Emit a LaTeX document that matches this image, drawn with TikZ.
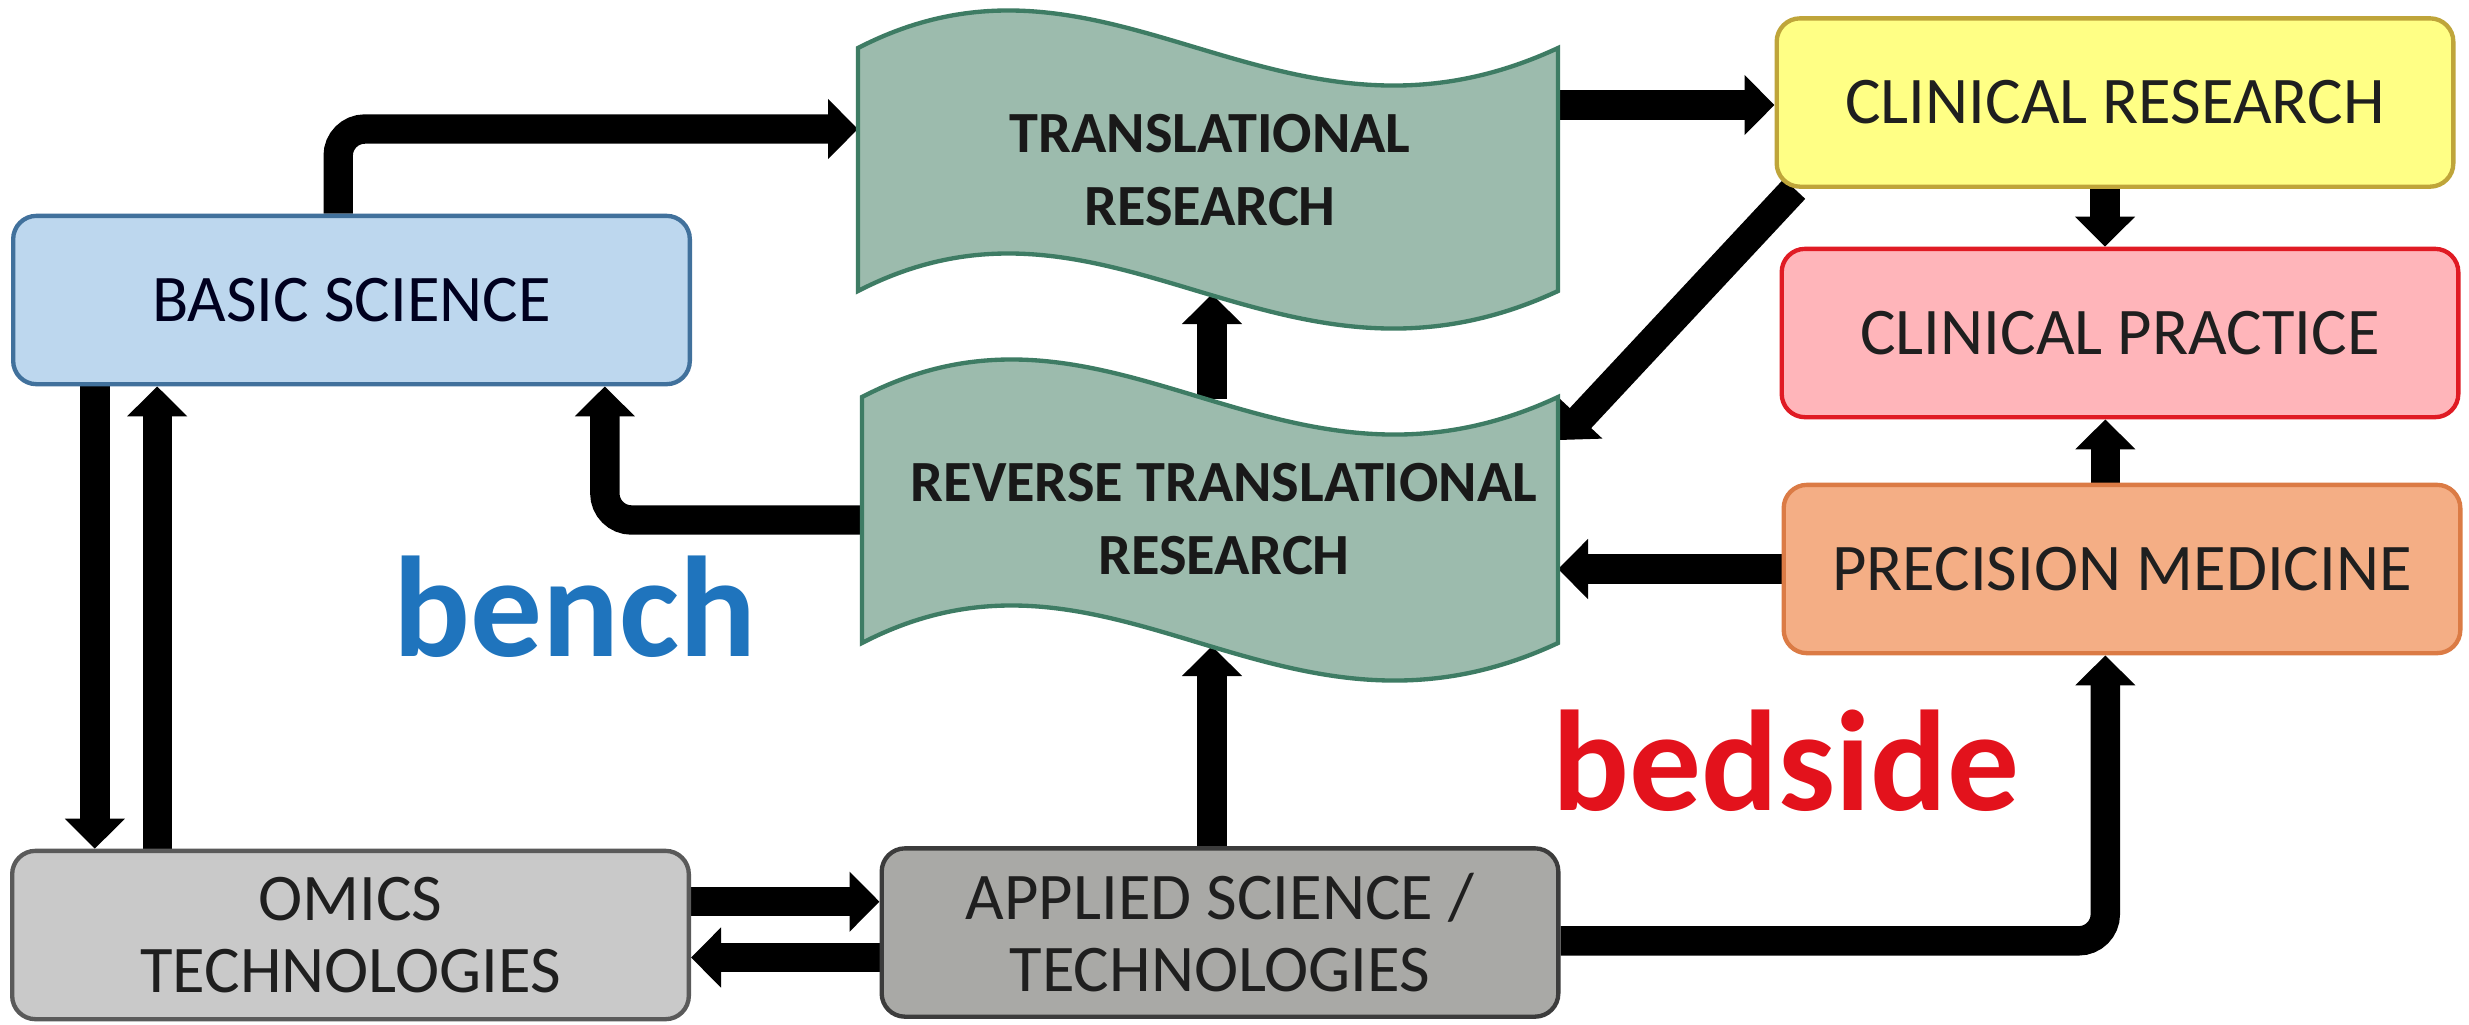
\documentclass[tikz,border=0pt]{standalone}
\usepackage{fontspec}
\setmainfont{Carlito}
\usetikzlibrary{arrows.meta}
\pgfdeclarelayer{bg}
\pgfsetlayers{bg,main}
\definecolor{bsfill}{HTML}{BDD7EE}
\definecolor{bsdraw}{HTML}{41719C}
\definecolor{wvfill}{HTML}{9CBBAD}
\definecolor{wvdraw}{HTML}{3E7C64}
\definecolor{crfill}{HTML}{FFFF85}
\definecolor{crdraw}{HTML}{BFA53A}
\definecolor{cpfill}{HTML}{FFB5BA}
\definecolor{cpdraw}{HTML}{E01B24}
\definecolor{pmfill}{HTML}{F4AE85}
\definecolor{pmdraw}{HTML}{DB7B45}
\definecolor{omfill}{HTML}{C9C9C9}
\definecolor{omdraw}{HTML}{5A5A5A}
\definecolor{apfill}{HTML}{A9A9A6}
\definecolor{apdraw}{HTML}{3C3C3C}
\definecolor{benchc}{HTML}{1F74BD}
\definecolor{bedc}{HTML}{E3121C}
\begin{document}
\begin{tikzpicture}[x=0.3pt,y=-0.3pt,
  box/.style={rounded corners=7pt, line width=1.3pt, minimum width=203pt, minimum height=50.5pt,
    align=center, font=\fontsize{20}{21.5}\selectfont, text=black!88, inner sep=0pt},
  wave/.style={fill=wvfill, draw=wvdraw, line width=1.3pt},
  wtext/.style={align=center, font=\bfseries\fontsize{17.5}{22}\selectfont, text=black!90},
  arr/.style={line width=8.8pt, -{Triangle[width=17.5pt,length=9pt]}, rounded corners=8pt},
  big/.style={font=\bfseries\fontsize{43}{43}\selectfont, anchor=base}
]
\useasboundingbox (0,0) rectangle (2469,1024);

% boxes
\node[box, fill=bsfill, draw=bsdraw, text=black!80!blue!60!black] (bs) at (351.5,300) {BASIC SCIENCE};
\node[box, fill=omfill, draw=omdraw] (om) at (350.5,935) {OMICS\\TECHNOLOGIES};
\node[box, fill=apfill, draw=apdraw] (ap) at (1220,932.5) {APPLIED SCIENCE /\\TECHNOLOGIES};
\node[box, fill=crfill, draw=crdraw] (cr) at (2115,102.5) {CLINICAL RESEARCH};
\node[box, fill=cpfill, draw=cpdraw] (cp) at (2120,333) {CLINICAL PRACTICE};
\node[box, fill=pmfill, draw=pmdraw] (pm) at (2122,569) {PRECISION MEDICINE};

% banners
\draw[wave] (858,48) .. controls (1110,-82) and (1278,178) .. (1558,48) -- (1558,291)
  .. controls (1278,421) and (1110,161) .. (858,291) -- cycle;
\draw[wave] (862,397) .. controls (1112.6,267) and (1279.6,527) .. (1558,397) -- (1558,643)
  .. controls (1279.6,773) and (1112.6,513) .. (862,643) -- cycle;
\node[wtext] (trtext) at (1210,170) {TRANSLATIONAL\\RESEARCH};
\node[wtext] (rvtext) at (1224,519) {REVERSE TRANSLATIONAL\\RESEARCH};

% banner edge points
\coordinate (trL) at (858,129);
\coordinate (trR) at (1558,105);
\coordinate (trBot) at (1212,294);
\coordinate (rvTop) at (1212,399);
\coordinate (rvBot) at (1212,646);
\coordinate (rvL) at (862,520);
\coordinate (rvR) at (1558,571);
\coordinate (rvRd) at (1560,440);

% labels
\node[big, text=benchc] (bench) at (575,656) {bench};
\node[big, text=bedc] (bedside) at (1786,810) {bedside};

% arrows
\begin{pgfonlayer}{bg}
\fill[white] (0,0) rectangle (2469,1024);
\draw[arr] ([xshift=-4pt]bs.north) |- (trL);
\draw[arr] (rvL) -| ([xshift=76pt]bs.south);
\draw[arr] ([xshift=-77pt]bs.south) -- ([xshift=-77pt]bs.south |- om.north);
\draw[arr] ([xshift=-58pt]om.north) -- ([xshift=-58pt]om.north |- bs.south);
\draw[arr] ([yshift=10pt]om.east) -- ([yshift=10pt]om.east -| ap.west);
\draw[arr] ([yshift=-7.5pt]ap.west) -- ([yshift=-7.5pt]ap.west -| om.east);
\draw[arr] (rvBot |- ap.north) -- (rvBot);
\draw[arr] (rvTop) -- (trBot);
\draw[arr] (trR) -- (trR -| cr.west);
\draw[arr] ([xshift=6pt]cr.south west) -- (rvRd);
\draw[arr] ([xshift=-3pt]cr.south) -- ([xshift=-3pt]cr.south |- cp.north);
\draw[arr] ([xshift=-5pt]pm.north) -- ([xshift=-5pt]pm.north |- cp.south);
\draw[arr] (pm.west) -- (pm.west -| rvR);
\draw[arr] ([yshift=-2.5pt]ap.east) -| ([xshift=-5pt]pm.south);
\end{pgfonlayer}
\end{tikzpicture}
\end{document}
